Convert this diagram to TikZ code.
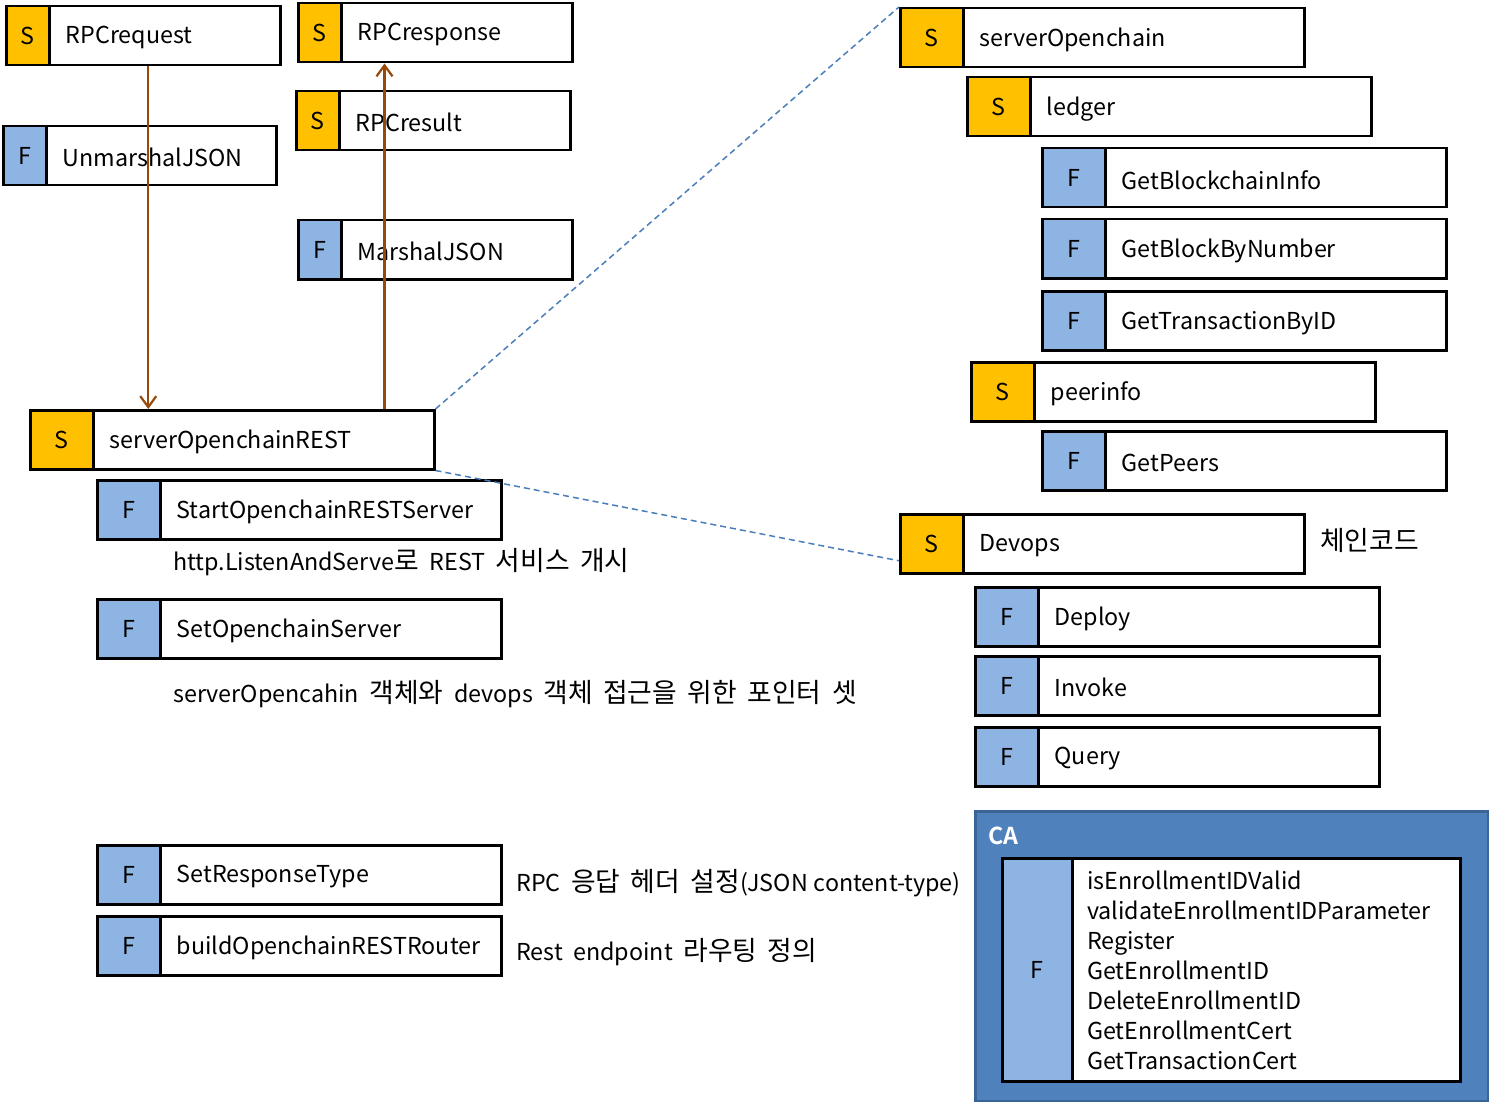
\documentclass[tikz,border=0pt]{standalone}
\usepackage{fontspec}
\setmainfont{Noto Sans CJK KR}[BoldFont={Noto Sans CJK KR Bold}]
\newfontfamily\kr{Noto Sans CJK KR}[Scale=1.15]
\usetikzlibrary{arrows.meta,calc}
\definecolor{sgold}{HTML}{FFC000}
\definecolor{fblue}{HTML}{8EB4E3}
\definecolor{arrbrown}{HTML}{984807}
\definecolor{dashblue}{HTML}{4A7EBB}
\definecolor{cafill}{HTML}{4F81BD}
\definecolor{caline}{HTML}{3A6496}
\newcommand\tfont{\fontsize{23.3}{27}\selectfont}
\newcommand\notefont{\fontsize{23.3}{27}\selectfont\spaceskip=10.5pt\relax}
\newcommand\ko[1]{{\kr #1}}
\tikzset{
  boxframe/.style={draw=black, line width=2.5pt, fill=white, inner sep=0pt, anchor=north west},
  stag/.style={draw=black, line width=2.5pt, fill=sgold, inner sep=0pt, anchor=north west, font=\tfont},
  ftag/.style={draw=black, line width=2.5pt, fill=fblue, inner sep=0pt, anchor=north west, font=\tfont},
  lbl/.style={anchor=west, inner sep=0pt, font=\tfont, yshift=-2pt},
  note/.style={anchor=base west, inner sep=0pt, font=\notefont},
  flowarrow/.style={draw=arrbrown, line width=2.2pt, -{Straight Barb[length=11pt,width=16pt]}},
  linkdash/.style={draw=dashblue, line width=1.5pt, dash pattern=on 6pt off 4pt},
}
\newcommand\mkbox[9]{%
  \node[boxframe, minimum width=#4, minimum height=#5] (#1) at (#2,#3) {};
  \node[#7, minimum width=#6, minimum height=#5] (#1t) at (#1.north west) {#8};
  \node[lbl] (#1l) at ($(#1t.east)+(15,0)$) {#9};
}
\begin{document}
\begin{tikzpicture}[x=1pt,y=-1pt]
\useasboundingbox (0,0) rectangle (1489,1102);
% left column
\mkbox{rpcreq}{5}{5}{274}{59}{43}{stag}{S}{RPCrequest}
\mkbox{rpcresp}{297}{2}{274}{59}{43}{stag}{S}{RPCresponse}
\mkbox{rpcres}{295}{90}{274}{59}{43}{stag}{S}{RPCresult}
\mkbox{unm}{2}{125}{273}{59}{43}{ftag}{F}{UnmarshalJSON}
\mkbox{mar}{297}{219}{274}{59}{43}{ftag}{F}{MarshalJSON}
\mkbox{rest}{29}{409}{404}{59}{63}{stag}{S}{serverOpenchainREST}
\mkbox{start}{96}{479}{404}{59}{63}{ftag}{F}{StartOpenchainRESTServer}
\mkbox{setoc}{96}{598}{404}{59}{63}{ftag}{F}{SetOpenchainServer}
\mkbox{setrt}{96}{844}{404}{59}{63}{ftag}{F}{SetResponseType}
\mkbox{build}{96}{915}{404}{59}{63}{ftag}{F}{buildOpenchainRESTRouter}
\node[note] (n1) at (173,570) {http.ListenAndServe\ko{로} REST \ko{서비스} \ko{개시}};
\node[note] (n2) at (173,702) {serverOpencahin \ko{객체와} devops \ko{객체} \ko{접근을} \ko{위한} \ko{포인터} \ko{셋}};
\node[note] (n3) at (516,891) {RPC \ko{응답} \ko{헤더} \ko{설정}(JSON\hspace{6pt}content-type)};
\node[note] (n4) at (516,960) {Rest endpoint \ko{라우팅} \ko{정의}};
% right column
\mkbox{soc}{899}{7}{404}{59}{63}{stag}{S}{serverOpenchain}
\mkbox{ledger}{966}{76}{404}{59}{63}{stag}{S}{ledger}
\mkbox{gbi}{1041}{147}{404}{59}{63}{ftag}{F}{GetBlockchainInfo}
\mkbox{gbn}{1041}{218}{404}{59}{63}{ftag}{F}{GetBlockByNumber}
\mkbox{gtx}{1041}{290}{404}{59}{63}{ftag}{F}{GetTransactionByID}
\mkbox{peer}{970}{361}{404}{59}{63}{stag}{S}{peerinfo}
\mkbox{gp}{1041}{430}{404}{59}{63}{ftag}{F}{GetPeers}
\mkbox{dev}{899}{513}{404}{59}{63}{stag}{S}{Devops}
\mkbox{dep}{974}{586}{404}{59}{63}{ftag}{F}{Deploy}
\mkbox{inv}{974}{655}{404}{59}{63}{ftag}{F}{Invoke}
\mkbox{qry}{974}{726}{404}{59}{63}{ftag}{F}{Query}
\node[note] (n5) at (1320,550) {\ko{체인코드}};
% CA
\node[draw=caline, fill=cafill, line width=3pt, minimum width=513, minimum height=290, anchor=north west, inner sep=0pt] (ca) at (974,810) {};
\node[anchor=west, inner sep=0pt, text=white, font=\tfont\bfseries] (calbl) at (988,836) {CA};
\node[boxframe, minimum width=458, minimum height=223] (cain) at (1001,857) {};
\node[ftag, minimum width=70, minimum height=223] (caint) at (cain.north west) {F};
\node[anchor=west, inner sep=0pt, align=left, font=\fontsize{23.3}{30}\selectfont] (cafn) at (1087,970) {isEnrollmentIDValid\\validateEnrollmentIDParameter\\Register\\GetEnrollmentID\\DeleteEnrollmentID\\GetEnrollmentCert\\GetTransactionCert};
% connectors
\draw[flowarrow] ([xshift=5pt]rpcreq.south) -- ([xshift=5pt]rpcreq.south |- rest.north);
\draw[flowarrow] ([xshift=-51pt]rest.north east) -- ([xshift=-51pt]rest.north east |- rpcresp.south);
\draw[linkdash] (rest.north east) -- (soc.north west);
\draw[linkdash] (rest.south east) -- ([yshift=-17pt]dev.west);
\end{tikzpicture}
\end{document}
